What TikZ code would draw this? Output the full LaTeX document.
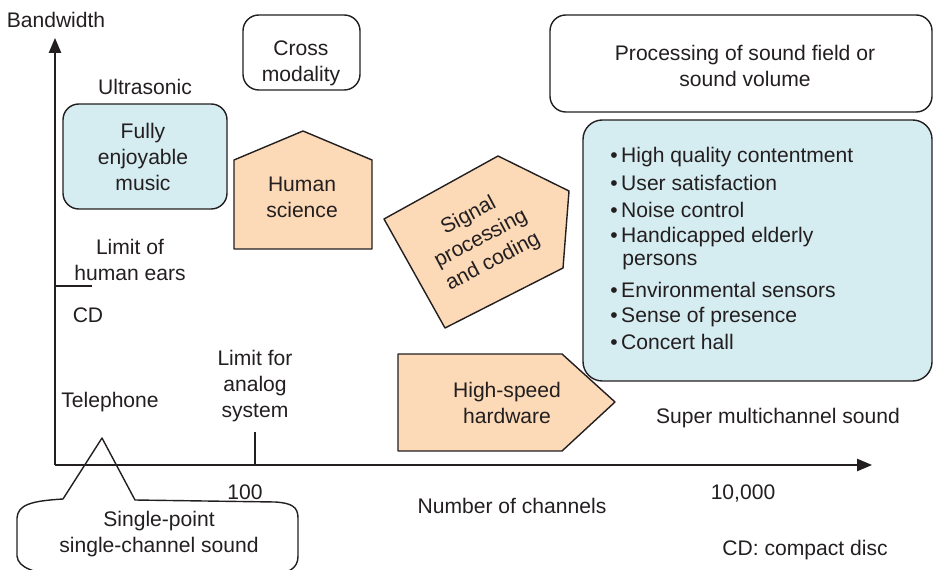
\documentclass[tikz,border=0pt]{standalone}
\usepackage{fontspec}
\setmainfont{Liberation Sans}
\usetikzlibrary{arrows.meta}
\definecolor{inkgray}{RGB}{35,31,32}
\definecolor{paleblue}{RGB}{213,236,241}
\definecolor{peach}{RGB}{252,217,183}
\tikzset{
  lbl/.style={text=inkgray,align=center,font=\fontsize{12}{14.8}\selectfont,inner sep=0pt},
  outline/.style={draw=inkgray,line width=0.8pt,line join=round},
  bluebox/.style={outline,fill=paleblue,rounded corners=9pt},
  whitebox/.style={outline,fill=white,rounded corners=9pt},
  peachshape/.style={outline,fill=peach},
  axisline/.style={draw=inkgray,line width=0.8pt,-{Triangle[length=8.5pt,width=7pt]}}
}
\begin{document}
\begin{tikzpicture}[x=0.02cm,y=-0.02cm]
\useasboundingbox (0,0) rectangle (935,570);
\coordinate (o) at (55,465);
\coordinate (ytop) at (55,38);
\coordinate (xend) at (872,465);
\draw[axisline] (o) -- (ytop);
\draw[axisline] (o) -- (xend);
\draw[outline] (55,286) -- (92,286);
\draw[outline] (255,432) -- (255,465);
\node[lbl] (bw) at (56,20) {Bandwidth};
\node[lbl] (ultra) at (145,87) {Ultrasonic};
\node[lbl] (ears) at (130,260) {Limit of\\human ears};
\node[lbl] (cd) at (88,315) {CD};
\node[lbl] (tel) at (110,402) {Telephone};
\node[lbl] (analog) at (255,386) {Limit for\\analog\\system};
\node[lbl] (hundred) at (245,492) {100};
\node[lbl] (tenk) at (743,493) {10,000};
\node[lbl] (nch) at (512,506) {Number of channels};
\node[lbl] (smc) at (778,418) {Super multichannel sound};
\node[lbl] (cdnote) at (805,550) {CD: compact disc};
\draw[bluebox] (63,104) rectangle (227,209);
\node[lbl] (music) at (143,157) {Fully\\enjoyable\\music};
\draw[whitebox] (243,15) rectangle (360,90);
\node[lbl] (cross) at (301,63) {Cross\\modality};
\draw[whitebox] (550,15) rectangle (932,112);
\node[lbl] (field) at (745,66) {Processing of sound field or\\sound volume};
\draw[bluebox,rounded corners=11pt] (583,120) rectangle (932,381);
\foreach \y/\t [count=\i] in {157/High quality contentment,183/User satisfaction,
  210/Noise control,237/Handicapped elderly,290/Environmental sensors,
  317/Sense of presence,342/Concert hall}{
  \node[lbl,anchor=west] (item\i) at (610,\y) {\textbullet\,\t};
}
\node[lbl,anchor=west] (persons) at (622,262) {persons};
\draw[peachshape] (234,249) -- (234,160) -- (303,131) -- (372,160) -- (372,249) -- cycle;
\node[lbl] (human) at (302,197) {Human\\science};
\draw[peachshape] (445,328) -- (384,219) -- (498,156) -- (569,191) -- (563,268) -- cycle;
\node[lbl,rotate=28] (signal) at (481,239) {Signal\\processing\\and coding};
\draw[peachshape] (398,451) -- (398,354) -- (562,354) -- (615,402) -- (562,451) -- cycle;
\node[lbl] (hw) at (507,403) {High-speed\\hardware};
\draw[outline] (63,499) -- (102,438) -- (135,500) -- (275,502)
  .. controls (292,503) and (298,507) .. (298,518) -- (298,556)
  .. controls (298,568) and (290,573) .. (270,576) -- (60,576)
  .. controls (35,573) and (18,568) .. (17,556) -- (17,518)
  .. controls (18,505) and (30,501) .. (63,499);
\node[lbl] (single) at (159,534) {Single-point\\single-channel sound};
\end{tikzpicture}
\end{document}
